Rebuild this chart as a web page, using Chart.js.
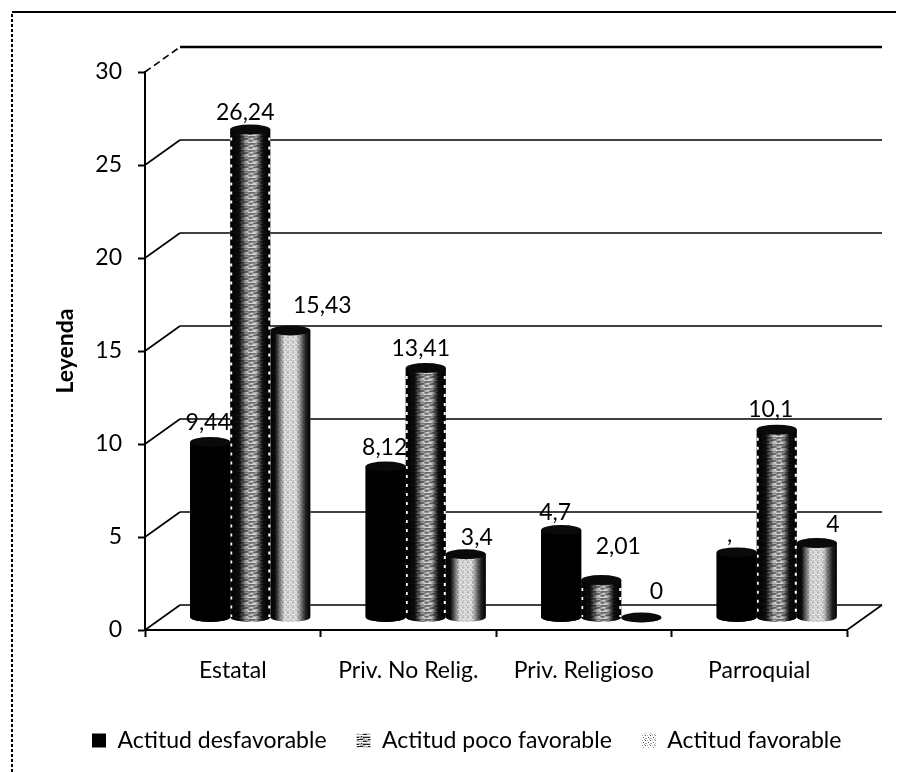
<!DOCTYPE html>
<html>
<head>
<meta charset="utf-8">
<title>Actitud por tipo de institucion</title>
<script src="https://cdn.jsdelivr.net/npm/chart.js@4/dist/chart.umd.min.js"></script>
<style>
body { margin: 0; background: #fff; }
canvas { display: block; }
</style>
</head>
<body>
<canvas id="grafico" width="906" height="772"></canvas>
<script>
// datos
var categorias = ["Estatal", "Priv. No Relig.", "Priv. Religioso", "Parroquial"];
var desfavorable = [9.44, 8.12, 4.7, 3.5];
var pocoFavorable = [26.24, 13.41, 2.01, 10.1];
var favorable = [15.43, 3.4, 0, 4];
var textoDesfavorable = ["9,44", "8,12", "4,7", ","];
var textoPoco = ["26,24", "13,41", "2,01", "10,1"];
var textoFavorable = ["15,43", "3,4", "0", "4"];

// profundidad del falso 3D
var fondoX = 35, fondoY = 25;
var fuente = "Lato";

// etiquetas movidas a mano en el original (dx, dy respecto a la tapa)
var ajusteDesf = [[-2, -19], [-1, -19], [-6, -18], [-7, -18]];
var ajustePoco = [[-5, -17], [-5, -19], [17, -34], [-6, -20]];
var ajusteFav = [[32, -25], [11, -17], [15, -26], [16, -19]];

// tramas de relleno
function trama(ancho, alto, pinta) {
  var c = document.createElement("canvas");
  c.width = ancho; c.height = alto;
  var x = c.getContext("2d");
  pinta(x);
  return x.createPattern(c, "repeat");
}
var tramaPoco = trama(11, 7, function (x) {
  x.fillStyle = "#b4b4b4"; x.fillRect(0, 0, 11, 7);
  x.fillStyle = "#ffffff"; x.fillRect(0, 0, 11, 1); x.fillRect(2, 3, 6, 1); x.fillRect(7, 5, 4, 1);
  x.fillStyle = "#1e1e1e"; x.fillRect(0, 2, 7, 1); x.fillRect(5, 4, 6, 1); x.fillRect(0, 6, 4, 1); x.fillRect(9, 1, 1, 1);
});
var tramaFav = trama(5, 5, function (x) {
  x.fillStyle = "#ffffff"; x.fillRect(0, 0, 5, 5);
  x.fillStyle = "#555555"; x.fillRect(0, 0, 1, 1); x.fillRect(3, 2, 1, 1);
  x.fillStyle = "#a8a8a8"; x.fillRect(2, 0, 1, 1); x.fillRect(0, 3, 2, 1); x.fillRect(4, 4, 1, 1);
});

// sombra lateral de cada cilindro
var sombras = [
  [[0, 1], [1, 1]],
  [[0, 1], [0.22, 0.92], [0.45, 0.05], [0.62, 0.05], [0.82, 0.92], [1, 1]],
  [[0, 1], [0.12, 0.95], [0.35, 0.08], [0.65, 0.08], [0.88, 0.85], [1, 1]]
];
var textos = [textoDesfavorable, textoPoco, textoFavorable];
var ajustes = [ajusteDesf, ajustePoco, ajusteFav];

var pared3d = {
  id: "pared3d",
  beforeDatasetsDraw: function (chart) {
    var ctx = chart.ctx, a = chart.chartArea, y = chart.scales.y;
    ctx.save();
    // marco de la hoja
    ctx.strokeStyle = "#000";
    ctx.lineWidth = 2;
    ctx.beginPath(); ctx.moveTo(12, 12); ctx.lineTo(896, 12); ctx.stroke();
    ctx.setLineDash([3, 2]);
    ctx.beginPath(); ctx.moveTo(12, 14); ctx.lineTo(12, 772); ctx.stroke();
    ctx.setLineDash([]);
    // lineas de la pared
    y.ticks.forEach(function (t) {
      var py = y.getPixelForValue(t.value);
      ctx.lineWidth = 1.6;
      if (t.value === y.max) ctx.setLineDash([7, 4]);
      ctx.beginPath();
      ctx.moveTo(a.left, py);
      ctx.lineTo(a.left + fondoX, py - fondoY);
      ctx.stroke();
      ctx.setLineDash([]);
      ctx.lineWidth = t.value === y.max ? 2.4 : 1.6;
      ctx.beginPath();
      ctx.moveTo(a.left + fondoX, py - fondoY);
      ctx.lineTo(a.right + fondoX, py - fondoY);
      ctx.stroke();
    });
    // borde derecho del piso
    ctx.lineWidth = 1.6;
    ctx.beginPath();
    ctx.moveTo(a.right, a.bottom);
    ctx.lineTo(a.right + fondoX, a.bottom - fondoY);
    ctx.stroke();
    ctx.restore();
  },
  beforeDatasetDraw: function (chart) {
    chart.ctx.save();
    chart.ctx.translate(fondoX / 2, -fondoY / 2);
  },
  afterDatasetDraw: function (chart, args) {
    var ctx = chart.ctx, i = args.index;
    var relleno = chart.data.datasets[i].backgroundColor;
    args.meta.data.forEach(function (el) {
      var w = el.width, izq = el.x - w / 2, rx = w / 2, ry = 5;
      // base redonda
      ctx.beginPath();
      ctx.ellipse(el.x, el.base, rx, ry, 0, 0, Math.PI);
      ctx.fillStyle = relleno;
      ctx.fill();
      // sombra
      var g = ctx.createLinearGradient(izq, 0, izq + w, 0);
      sombras[i].forEach(function (s) { g.addColorStop(s[0], "rgba(0,0,0," + s[1] + ")"); });
      ctx.beginPath();
      ctx.moveTo(izq, el.y);
      ctx.lineTo(izq, el.base);
      ctx.ellipse(el.x, el.base, rx, ry, 0, Math.PI, 0, true);
      ctx.lineTo(izq + w, el.y);
      ctx.closePath();
      ctx.fillStyle = g;
      ctx.fill();
      // puntos blancos del escaneo en los bordes
      if (i === 1 && el.base - el.y > 10) {
        ctx.strokeStyle = "#fff";
        ctx.lineWidth = 2;
        ctx.setLineDash([3, 6]);
        ctx.beginPath();
        ctx.moveTo(izq + 1, el.y + 8); ctx.lineTo(izq + 1, el.base);
        ctx.moveTo(izq + w - 1, el.y + 8); ctx.lineTo(izq + w - 1, el.base);
        ctx.stroke();
        ctx.setLineDash([]);
      }
      // tapa
      ctx.beginPath();
      ctx.ellipse(el.x, el.y, rx, ry, 0, 0, Math.PI * 2);
      ctx.fillStyle = "#0a0a0a";
      ctx.fill();
    });
    ctx.restore();
  },
  afterDatasetsDraw: function (chart) {
    var ctx = chart.ctx;
    ctx.save();
    ctx.font = "23px " + fuente;
    ctx.fillStyle = "#000";
    ctx.textAlign = "center";
    ctx.textBaseline = "middle";
    chart.data.datasets.forEach(function (ds, i) {
      chart.getDatasetMeta(i).data.forEach(function (el, j) {
        var d = ajustes[i][j];
        ctx.fillText(textos[i][j], el.x + fondoX / 2 + d[0], el.y - fondoY / 2 + d[1]);
      });
    });
    ctx.restore();
  }
};

new Chart(document.getElementById("grafico"), {
  type: "bar",
  data: {
    labels: categorias,
    datasets: [
      { label: "Actitud desfavorable", data: desfavorable, backgroundColor: "#000" },
      { label: "Actitud poco favorable", data: pocoFavorable, backgroundColor: tramaPoco },
      { label: "Actitud favorable", data: favorable, backgroundColor: tramaFav }
    ]
  },
  plugins: [pared3d],
  options: {
    responsive: false,
    animation: false,
    clip: false,
    layout: {
      autoPadding: false,
      padding: { left: 62, right: 0, top: 72, bottom: 10 }
    },
    datasets: { bar: { categoryPercentage: 0.685, barPercentage: 1, borderWidth: 0 } },
    plugins: {
      tooltip: { enabled: false },
      legend: {
        position: "bottom",
        align: "start",
        labels: {
          boxWidth: 14,
          boxHeight: 14,
          padding: 30,
          color: "#000",
          font: { family: fuente, size: 23 }
        }
      }
    },
    scales: {
      x: {
        afterFit: function (s) { s.height = 69; },
        border: { color: "#000", width: 2 },
        grid: { offset: true, drawOnChartArea: false, color: "#000", tickLength: 7, tickWidth: 2 },
        ticks: { color: "#000", padding: 20, font: { family: fuente, size: 23 }, maxRotation: 0 }
      },
      y: {
        min: 0,
        max: 30,
        afterFit: function (s) { s.width = 83; },
        border: { color: "#000", width: 2 },
        grid: { drawOnChartArea: false, color: "#000", tickLength: 7, tickWidth: 2 },
        ticks: { stepSize: 5, color: "#000", padding: 16, font: { family: fuente, size: 23 } },
        title: {
          display: true,
          text: "Leyenda",
          color: "#000",
          padding: { top: -10, bottom: 0 },
          font: { family: fuente, size: 23, weight: "bold" }
        }
      },
      // eje vacio, solo deja libre el margen derecho sin quitarle ancho a la leyenda
      margen: {
        axis: "y",
        position: "right",
        afterFit: function (s) { s.width = 59; },
        border: { display: false },
        grid: { display: false },
        ticks: { display: false }
      }
    }
  }
});
</script>
</body>
</html>
